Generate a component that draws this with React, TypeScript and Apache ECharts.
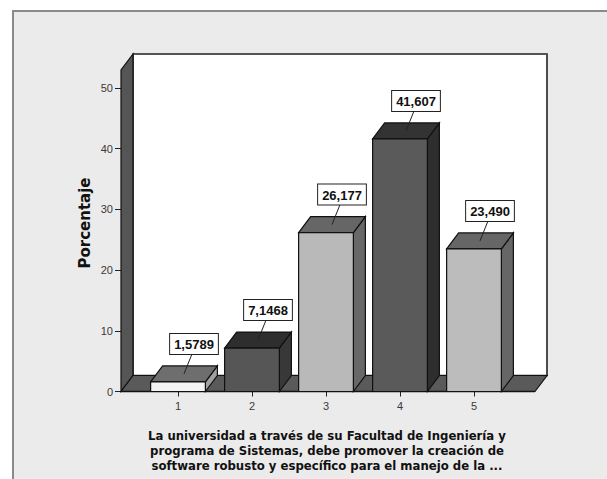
import React, { useEffect, useRef } from "react";
import * as echarts from "echarts";

// Response categories and their percentage of answers
const categories = ["1", "2", "3", "4", "5"];
const percentages = [1.5789, 7.1468, 26.177, 41.607, 23.49];

// Value axis
const yMin = 0;
const yMax = 50;
const yInterval = 10;

const yTitle = "Porcentaje";
const xTitleLines = [
  "La universidad a través de su Facultad de Ingeniería y",
  "programa de Sistemas, debe promover la creación de",
  "software robusto y específico para el manejo de la ...",
];

// Shades for the front, top and side faces of each bar
const barShades = [
  { front: "#f4f4f4", top: "#6e6e6e", side: "#a0a0a0" },
  { front: "#565656", top: "#2e2e2e", side: "#383838" },
  { front: "#b9b9b9", top: "#666666", side: "#686868" },
  { front: "#5a5a5a", top: "#333333", side: "#2e2e2e" },
  { front: "#bcbcbc", top: "#666666", side: "#666666" },
];

// 3D depth offset of the perspective
const DX = 12;
const DY = -16;

const formatValue = (v: number) => v.toPrecision(5).replace(".", ",");

export default function App() {
  const ref = useRef<HTMLDivElement>(null);

  useEffect(() => {
    document.body.style.margin = "0";
    if (!ref.current) return;
    const chart = echarts.init(ref.current, null, { renderer: "svg" });

    const frameSeries = {
      type: "custom",
      z: 1,
      silent: true,
      data: [[0, 0]],
      renderItem: (params: any) => {
        const cs = params.coordSys;
        const x0 = cs.x - 20;
        const x1 = cs.x + cs.width + 24;
        const yb = cs.y + cs.height;
        const yt = cs.y - 18;
        return {
          type: "group",
          children: [
            {
              type: "polygon",
              shape: {
                points: [
                  [x0 + DX, yt + DY],
                  [x1 + DX, yt + DY],
                  [x1 + DX, yb + DY],
                  [x0 + DX, yb + DY],
                ],
              },
              style: { fill: "#ffffff", stroke: "#222", lineWidth: 1.6 },
            },
            {
              type: "line",
              shape: { x1: x0 + DX, y1: yt + DY, x2: x1 + DX, y2: yt + DY },
              style: { stroke: "#555", lineWidth: 2 },
            },
            {
              type: "polygon",
              shape: {
                points: [
                  [x0, yb],
                  [x0, yt],
                  [x0 + DX, yt + DY],
                  [x0 + DX, yb + DY],
                ],
              },
              style: { fill: "#555555", stroke: "#111", lineWidth: 1.2 },
            },
            {
              type: "polygon",
              shape: {
                points: [
                  [x0, yb],
                  [x1, yb],
                  [x1 + DX, yb + DY],
                  [x0 + DX, yb + DY],
                ],
              },
              style: { fill: "#5a5a5a", stroke: "#111", lineWidth: 1.2 },
            },
            {
              type: "line",
              shape: { x1: x0, y1: yb, x2: x1, y2: yb },
              style: { stroke: "#111", lineWidth: 1.6 },
            },
          ],
        };
      },
    };

    const barSeries = {
      type: "custom",
      z: 3,
      data: percentages.map((v, i) => [i, v]),
      renderItem: (params: any, api: any) => {
        const i = api.value(0);
        const v = api.value(1);
        const top = api.coord([i, v]);
        const base = api.coord([i, 0]);
        const band = api.size([1, 0])[0];
        const w = band * 0.74;
        const xl = top[0] - w / 2;
        const xr = top[0] + w / 2;
        const yt = top[1];
        const yb = base[1];
        const shade = barShades[params.dataIndex];
        const tcx = top[0] + DX / 2;
        const tcy = yt + DY / 2;
        const lx = top[0] + 16;
        const ly = yt - 28;
        return {
          type: "group",
          children: [
            {
              type: "polygon",
              shape: {
                points: [
                  [xr, yt],
                  [xr + DX, yt + DY],
                  [xr + DX, yb + DY],
                  [xr, yb],
                ],
              },
              style: { fill: shade.side, stroke: "#111", lineWidth: 1.2 },
            },
            {
              type: "polygon",
              shape: {
                points: [
                  [xl, yt],
                  [xl + DX, yt + DY],
                  [xr + DX, yt + DY],
                  [xr, yt],
                ],
              },
              style: { fill: shade.top, stroke: "#111", lineWidth: 1.2 },
            },
            {
              type: "rect",
              shape: { x: xl, y: yt, width: w, height: yb - yt },
              style: { fill: shade.front, stroke: "#111", lineWidth: 1.2 },
            },
            {
              type: "line",
              shape: { x1: tcx, y1: tcy, x2: lx - 2, y2: ly },
              style: { stroke: "#222", lineWidth: 1 },
            },
            {
              type: "text",
              x: lx,
              y: ly,
              style: {
                text: formatValue(v),
                align: "center",
                verticalAlign: "bottom",
                fill: "#111",
                font: "bold 13px 'Liberation Sans Narrow', 'Liberation Sans', Arial",
                backgroundColor: "#ffffff",
                borderColor: "#222",
                borderWidth: 1,
                padding: [4, 4, 3, 4],
              },
            },
          ],
        };
      },
    };

    chart.setOption({
      animation: false,
      backgroundColor: "#ffffff",
      grid: { left: 141, right: 96, top: 88, bottom: 87.5 },
      xAxis: {
        type: "category",
        data: categories,
        boundaryGap: true,
        axisLine: { show: false },
        axisTick: {
          show: true,
          alignWithLabel: true,
          length: 5,
          lineStyle: { color: "#222" },
        },
        axisLabel: {
          margin: 9,
          color: "#3a3a3a",
          fontSize: 11,
          fontFamily: "'Liberation Sans Narrow', 'Liberation Sans', Arial",
        },
        splitLine: { show: false },
      },
      yAxis: {
        type: "value",
        min: yMin,
        max: yMax,
        interval: yInterval,
        offset: 20,
        axisLine: { show: false },
        axisTick: { show: true, length: 6, lineStyle: { color: "#222" } },
        axisLabel: {
          margin: 8,
          color: "#3a3a3a",
          fontSize: 11,
          fontFamily: "'Liberation Sans Narrow', 'Liberation Sans', Arial",
        },
        splitLine: { show: false },
      },
      graphic: [
        {
          type: "rect",
          z: -10,
          silent: true,
          shape: { x: 13, y: 11, width: 620, height: 500 },
          style: { fill: "#ebebeb", stroke: "#8a8a8a", lineWidth: 2 },
        },
        {
          type: "text",
          x: 85,
          y: 223,
          rotation: Math.PI / 2,
          style: {
            text: yTitle,
            align: "center",
            verticalAlign: "middle",
            fill: "#111",
            font: "bold 15px 'DejaVu Sans', Verdana, sans-serif",
          },
        },
        {
          type: "text",
          x: 327,
          y: 428,
          style: {
            text: xTitleLines.join("\n"),
            align: "center",
            verticalAlign: "top",
            lineHeight: 15,
            fill: "#111",
            font: "bold 13px 'DejaVu Sans Condensed', 'DejaVu Sans', sans-serif",
          },
        },
      ],
      series: [frameSeries, barSeries],
    });

    return () => chart.dispose();
  }, []);

  return <div ref={ref} style={{ width: 607, height: 479 }} />;
}
